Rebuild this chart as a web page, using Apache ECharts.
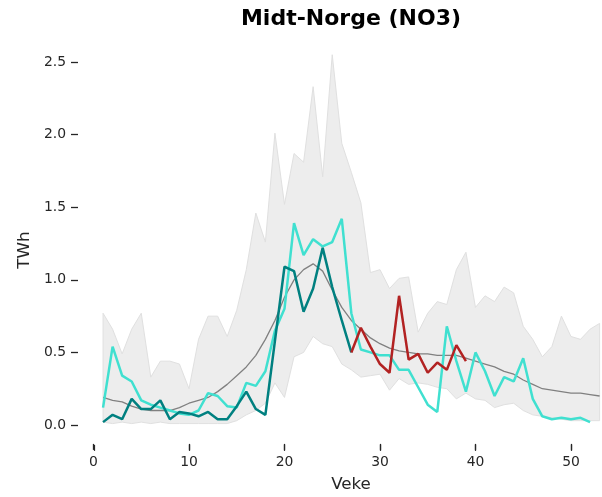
<!DOCTYPE html>
<html><head><meta charset="utf-8">
<script src="https://cdn.jsdelivr.net/npm/echarts@6/dist/echarts.min.js"></script>
<style>html,body{margin:0;padding:0;background:#fff}#c{width:602px;height:497px}</style>
</head><body><div id="c"></div>
<script>
const weeks = [1,2,3,4,5,6,7,8,9,10,11,12,13,14,15,16,17,18,19,20,21,22,23,24,25,26,27,28,29,30,31,32,33,34,35,36,37,38,39,40,41,42,43,44,45,46,47,48,49,50,51,52,53];
const bandMax = [0.77,0.66,0.49,0.66,0.77,0.33,0.44,0.44,0.42,0.25,0.59,0.75,0.75,0.61,0.79,1.07,1.46,1.26,2.01,1.52,1.87,1.81,2.33,1.71,2.55,1.94,1.74,1.53,1.05,1.07,0.94,1.01,1.02,0.64,0.77,0.85,0.83,1.07,1.19,0.81,0.89,0.85,0.95,0.91,0.68,0.59,0.47,0.54,0.75,0.61,0.59,0.66,0.70];
const bandMin = [0.02,0.01,0.02,0.01,0.02,0.01,0.02,0.01,0.01,0.01,0.01,0.01,0.01,0.01,0.03,0.07,0.10,0.15,0.29,0.19,0.47,0.50,0.61,0.56,0.54,0.42,0.38,0.33,0.34,0.35,0.24,0.32,0.28,0.29,0.28,0.26,0.25,0.18,0.22,0.18,0.17,0.12,0.14,0.15,0.10,0.07,0.06,0.05,0.04,0.03,0.03,0.03,0.03];
const median = [0.19,0.17,0.16,0.13,0.11,0.10,0.10,0.10,0.12,0.15,0.17,0.19,0.23,0.28,0.34,0.40,0.48,0.59,0.72,0.88,1.00,1.07,1.11,1.06,0.93,0.81,0.72,0.66,0.60,0.56,0.53,0.51,0.50,0.49,0.49,0.48,0.48,0.48,0.46,0.44,0.42,0.40,0.37,0.35,0.31,0.28,0.25,0.24,0.23,0.22,0.22,0.21,0.20];
const turquoiseWeeks = [1,2,3,4,5,6,7,8,9,10,11,12,13,14,15,16,17,18,19,20,21,22,23,24,25,26,27,28,29,30,31,32,33,34,35,36,37,38,39,40,41,42,43,44,45,46,47,48,49,50,51,52];
const turquoiseVals = [0.12,0.54,0.34,0.30,0.17,0.14,0.12,0.10,0.08,0.07,0.10,0.22,0.20,0.13,0.12,0.29,0.27,0.37,0.65,0.80,1.39,1.17,1.28,1.23,1.26,1.42,0.77,0.52,0.50,0.48,0.48,0.38,0.38,0.26,0.14,0.09,0.68,0.44,0.23,0.50,0.37,0.20,0.33,0.30,0.46,0.18,0.06,0.04,0.05,0.04,0.05,0.02];
const tealWeeks = [1,2,3,4,5,6,7,8,9,10,11,12,13,14,15,16,17,18,19,20,21,22,23,24,25,26,27];
const tealVals = [0.02,0.07,0.04,0.18,0.11,0.11,0.17,0.04,0.09,0.08,0.06,0.09,0.04,0.04,0.13,0.23,0.11,0.07,0.58,1.09,1.06,0.78,0.94,1.22,0.95,0.72,0.50];
const redWeeks = [27,28,29,30,31,32,33,34,35,36,37,38,39];
const redVals = [0.50,0.67,0.54,0.42,0.36,0.89,0.45,0.49,0.36,0.43,0.38,0.55,0.44];
const xTicks = [0,10,20,30,40,50];
const yTicks = [0,0.5,1,1.5,2,2.5];
const yTickLabels = ['0.0','0.5','1.0','1.5','2.0','2.5'];

const pairs = (ws, vs) => vs.map((v, i) => [ws[i], v]);
const font = 'DejaVu Sans';
const X_MIN = 0, X_MAX = 53.25, Y_MIN = -0.13, Y_MAX = 2.66;
const chart = echarts.init(document.getElementById('c'), null, {renderer: 'canvas'});
const lineBase = {type: 'line', symbol: 'none', showSymbol: false, smooth: false, animation: false, xAxisIndex: 0, yAxisIndex: 0};
const clearLine = {show: true, onZero: false, lineStyle: {color: 'rgba(255,255,255,0)', width: 1}};
chart.setOption({
  animation: false,
  backgroundColor: '#fff',
  grid: [
    {left: 93.5, top: 38.8, right: 0, height: 405.1},
    {left: 78, top: 38.8, width: 10, height: 405.1}
  ],
  xAxis: [
    {
      type: 'value', gridIndex: 0, position: 'bottom', min: X_MIN, max: X_MAX,
      axisLine: clearLine, splitLine: {show: false},
      axisTick: {show: true, inside: false, length: 6, customValues: xTicks, lineStyle: {color: '#262626', width: 1.3, opacity: 1}},
      axisLabel: {show: true, customValues: xTicks, margin: 11, fontFamily: font, fontSize: 13.9, color: '#262626'}
    },
    {type: 'value', gridIndex: 1, min: X_MIN, max: X_MAX, show: false}
  ],
  yAxis: [
    {type: 'value', gridIndex: 0, min: Y_MIN, max: Y_MAX, show: false},
    {
      type: 'value', gridIndex: 1, min: Y_MIN, max: Y_MAX,
      axisLine: clearLine, splitLine: {show: false},
      axisTick: {show: true, inside: false, length: 7, customValues: yTicks, lineStyle: {color: '#262626', width: 1.3}},
      axisLabel: {customValues: yTicks, margin: 12, fontFamily: font, fontSize: 13.9, color: '#262626',
        formatter: v => { const k = yTicks.indexOf(v); return k >= 0 ? yTickLabels[k] : v.toFixed(1); }}
    }
  ],
  graphic: [
    {type: 'text', x: 351, y: 19, style: {text: 'Midt-Norge (NO3)', font: 'bold 22px "DejaVu Sans"', fill: '#000', textAlign: 'center', textVerticalAlign: 'middle'}},
    {type: 'text', x: 351, y: 485, style: {text: 'Veke', font: '16.7px "DejaVu Sans"', fill: '#262626', textAlign: 'center', textVerticalAlign: 'middle'}},
    {type: 'text', x: 25, y: 250, rotation: Math.PI / 2, style: {text: 'TWh', font: '16.7px "DejaVu Sans"', fill: '#262626', textAlign: 'center', textVerticalAlign: 'middle'}}
  ],
  series: [
    {
      type: 'custom', name: 'band', xAxisIndex: 0, yAxisIndex: 0, silent: true, z: 1,
      data: [[weeks[0], bandMax[0]]],
      renderItem: (params, api) => {
        const pts = [];
        for (let i = 0; i < weeks.length; i++) pts.push(api.coord([weeks[i], bandMax[i]]));
        for (let i = weeks.length - 1; i >= 0; i--) pts.push(api.coord([weeks[i], bandMin[i]]));
        return {type: 'polygon', shape: {points: pts}, style: {fill: '#ededed', stroke: '#e0e0e0', lineWidth: 1}};
      }
    },
    {
      type: 'custom', name: 'xticks', xAxisIndex: 0, yAxisIndex: 0, silent: true, clip: false, z: 6,
      data: xTicks.map(t => [t, Y_MIN]),
      renderItem: (params, api) => {
        const p = api.coord([api.value(0), api.value(1)]);
        const x = Math.round(p[0]) + 0.5;
        return {type: 'line', shape: {x1: x, y1: p[1] + 1, x2: x, y2: p[1] + 7}, style: {stroke: '#262626', lineWidth: 1.2}};
      }
    },
    Object.assign({}, lineBase, {name: 'median', data: pairs(weeks, median), lineStyle: {color: '#808080', width: 1.3}, z: 2}),
    Object.assign({}, lineBase, {name: 'turquoise', data: pairs(turquoiseWeeks, turquoiseVals), lineStyle: {color: '#40e0d0', width: 2.5}, z: 3}),
    Object.assign({}, lineBase, {name: 'teal', data: pairs(tealWeeks, tealVals), lineStyle: {color: '#008080', width: 2.5}, z: 4}),
    Object.assign({}, lineBase, {name: 'red', data: pairs(redWeeks, redVals), lineStyle: {color: '#b22222', width: 2.5}, z: 5})
  ]
});
</script>
</body></html>
